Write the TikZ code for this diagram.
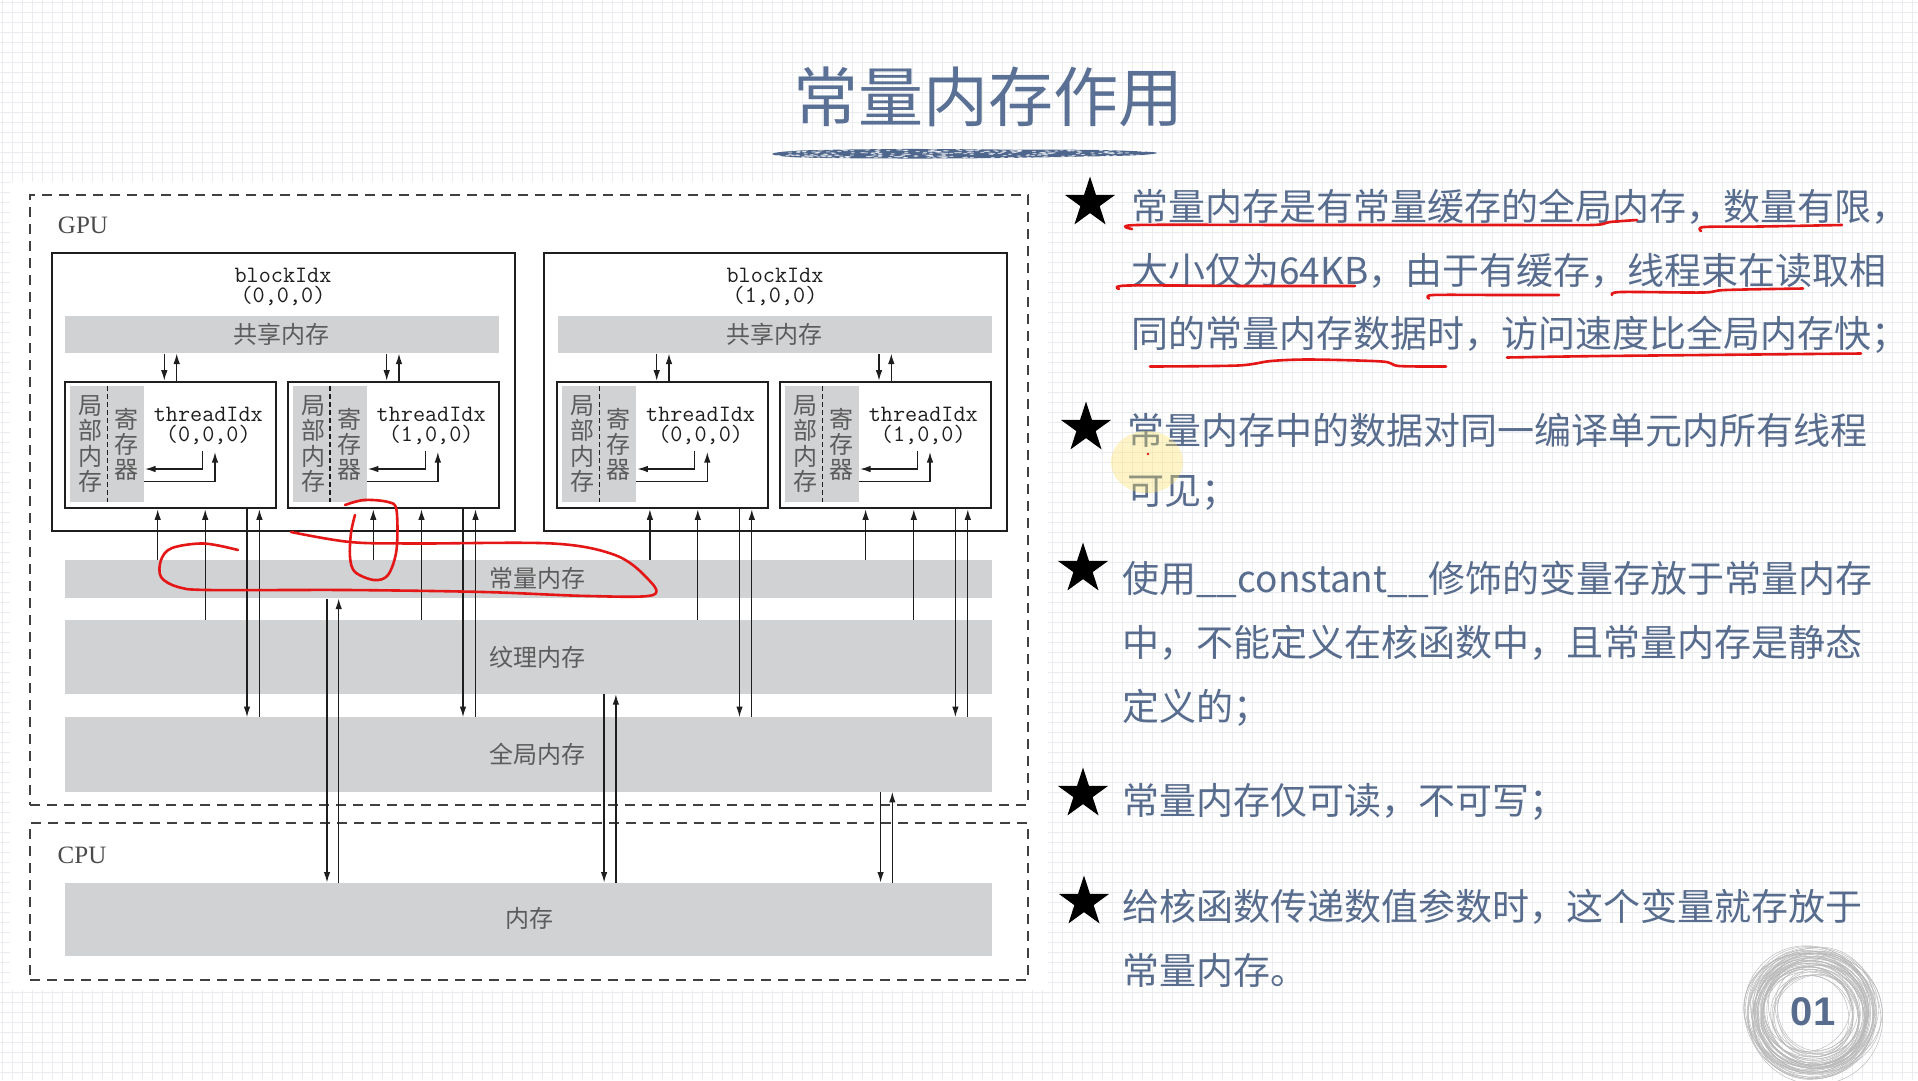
\documentclass[tikz,border=0pt]{standalone}
\usepackage{fontspec}
\setmainfont{Liberation Serif}
\newfontfamily\cjk{Noto Sans CJK SC}
\newfontfamily\sansf{Liberation Sans}
\usetikzlibrary{arrows.meta,shapes.geometric,calc}

\definecolor{bandgray}{RGB}{209,210,212}
\definecolor{ink}{RGB}{30,30,30}
\definecolor{lbl}{RGB}{92,92,92}
\definecolor{slate}{RGB}{88,108,142}
\definecolor{titlec}{RGB}{90,112,148}
\definecolor{brushc}{RGB}{78,102,140}
\definecolor{gridc}{RGB}{234,236,240}
\definecolor{redpen}{RGB}{228,22,22}

\tikzset{
  dashbox/.style={draw=ink!85, line width=2.2pt, dash pattern=on 10pt off 7pt, inner sep=0},
  blockbox/.style={draw=ink, line width=2pt, fill=white, inner sep=0},
  band/.style={fill=bandgray, draw=none, inner sep=0},
  arr/.style={draw=ink, line width=1.3pt, -{Latex[length=10.5pt,width=6.5pt]}},
  lab/.style={font=\cjk\fontsize{24}{25.5}\selectfont, text=lbl, inner sep=0, align=center},
  code/.style={font=\ttfamily\fontsize{23.5}{20.6}\selectfont, text=ink, inner sep=0, align=center},
  hwlabel/.style={font=\fontsize{25}{27}\selectfont, text=ink!80, inner sep=0},
  bodytext/.style={font=\cjk\fontsize{37}{44}\selectfont, text=slate, anchor=west, inner sep=0},
  bulletstar/.style={star, star points=5, star point ratio=2.618, fill=black, draw=none, minimum size=53pt, inner sep=0},
  redline/.style={draw=redpen, line width=2.6pt, line cap=round, line join=round}
}

\newcommand\thr[3]{%
  \node[blockbox, minimum width=211pt, minimum height=126.6pt] (#1) at (#2,445) {};
  \begin{scope}[shift={(#1.north west)}]
    \fill[bandgray] (5.7,5.6) rectangle (80,121.6);
    \draw[ink, line width=1.5pt, dash pattern=on 5pt off 3pt] (43.3,5.6) -- (43.3,121.6);
    \node[lab] (#1-loc) at (26.5,63.3) {局\\部\\内\\存};
    \node[lab, font=\cjk\fontsize{24}{25}\selectfont] (#1-reg) at (62.5,63.5) {寄\\存\\器};
    \node[code] (#1-id) at (144.3,45.3) {threadIdx\\#3};
    \coordinate (#1-r1) at (138.3,70);
    \coordinate (#1-r1e) at (81,88.3);
    \draw[arr] (#1-r1) |- (#1-r1e);
    \coordinate (#1-r2) at (80,100.6);
    \coordinate (#1-r2e) at (151,71.3);
    \draw[arr] (#1-r2) -| (#1-r2e);
  \end{scope}}

\begin{document}
\begin{tikzpicture}[x=1pt,y=-1pt]
\useasboundingbox (0,0) rectangle (1918,1080);
% background grid
\fill[white] (0,0) rectangle (1918,1080);
\foreach \gx in {2,12,...,1918} \draw[gridc, line width=0.9pt] (\gx,0) -- (\gx,1080);
\foreach \gy in {2,12,...,1080} \draw[gridc, line width=0.9pt] (0,\gy) -- (1918,\gy);
\fill[white] (10,182) rectangle (1048,990);

% title
\node[font=\cjk\fontsize{65}{70}\selectfont, text=titlec, inner sep=0] (title) at (988,97) {常量内存作用};
\fill[brushc] plot[smooth cycle, tension=0.5] coordinates {(772,154) (800,150.5) (900,149) (1000,149.5) (1100,150) (1156,152.5) (1130,155.5) (1000,158) (900,158.5) (800,157.5)};
\pgfmathsetseed{7}
\foreach \i in {1,...,260}{
  \pgfmathsetmacro{\px}{776+372*rnd}
  \pgfmathsetmacro{\py}{149.5+8.5*rnd}
  \fill[white, opacity=0.65] (\px,\py) ellipse[x radius=2.2pt, y radius=0.6pt];
}

% GPU / CPU frames
\node[dashbox, minimum width=998pt, minimum height=610pt] (gpu) at (529,500) {};
\node[dashbox, minimum width=998pt, minimum height=157pt] (cpu) at (529,901.5) {};
\node[hwlabel] (gpulbl) at (83,225) {GPU};
\node[hwlabel] (cpulbl) at (82,855) {CPU};

% blocks
\node[blockbox, minimum width=463pt, minimum height=278pt] (b0) at (283,392) {};
\node[blockbox, minimum width=463pt, minimum height=278pt] (b1) at (775,392) {};
\node[code] (b0id) at (283,287) {blockIdx\\(0,0,0)};
\node[code] (b1id) at (775,287) {blockIdx\\(1,0,0)};
\node[band, minimum width=434pt, minimum height=37.6pt] (sh0) at (282.2,334.5) {};
\node[band, minimum width=434pt, minimum height=37.6pt] (sh1) at (774.5,334.5) {};
\node[lab] (sh0l) at (281.7,334.5) {共享内存};
\node[lab] (sh1l) at (774,334.5) {共享内存};

\thr{t00}{170.5}{(0,0,0)}
\thr{t01}{393.35}{(1,0,0)}
\thr{t10}{662.8}{(0,0,0)}
\thr{t11}{885.5}{(1,0,0)}

% memory bands
\node[band, minimum width=926.5pt, minimum height=38.3pt] (const) at (528.25,579.2) {};
\node[band, minimum width=926.5pt, minimum height=74pt] (tex) at (528.25,657) {};
\node[band, minimum width=926.5pt, minimum height=74.4pt] (glob) at (528.25,754.5) {};
\node[band, minimum width=926.5pt, minimum height=73.3pt] (mem) at (528.25,919.35) {};
\node[lab] (constl) at (537.5,578) {常量内存};
\node[lab] (texl) at (537.5,657) {纹理内存};
\node[lab] (globl) at (537.5,754) {全局内存};
\node[lab] (meml) at (529,918) {内存};

% shared <-> thread
\foreach \xa/\xb/\tn/\sh in {164.3/176.7/t00/sh0, 386.7/399/t01/sh0, 656.7/669/t10/sh1, 879/891.3/t11/sh1}{
  \coordinate (ca) at (\xa,0);
  \coordinate (cb) at (\xb,0);
  \draw[arr] (ca |- \sh.south) -- (ca |- \tn.north);
  \draw[arr] (cb |- \tn.north) -- (cb |- \sh.south);
}
% bands -> threads
\foreach \xc/\xt/\xd/\xu/\tn in {157.7/205.2/247/259.4/t00, 373.3/421.5/463/475.5/t01, 649.9/697.8/739.5/751.8/t10, 865.6/913.8/955.4/967.8/t11}{
  \coordinate (cc) at (\xc,0);
  \coordinate (ct) at (\xt,0);
  \coordinate (cd) at (\xd,0);
  \coordinate (cu) at (\xu,0);
  \draw[arr] (cc |- const.north) -- (cc |- \tn.south);
  \draw[arr] (ct |- tex.north) -- (ct |- \tn.south);
  \draw[arr] (cd |- \tn.south) -- (cd |- glob.north);
  \draw[arr] (cu |- glob.north) -- (cu |- \tn.south);
}
% memory <-> device memories
\foreach \xa/\xb/\bn in {327/338.7/const, 604.1/615.9/tex, 880.6/892.3/glob}{
  \coordinate (ma) at (\xa,0);
  \coordinate (mb) at (\xb,0);
  \draw[arr] (ma |- \bn.south) -- (ma |- mem.north);
  \draw[arr] (mb |- mem.north) -- (mb |- \bn.south);
}

% red annotations on diagram
\draw[redline] plot[smooth, tension=0.55] coordinates {(238,550) (204,543.5) (172,548) (161,560) (161,577) (178,587) (209,590) (347,590) (484,592) (588,596) (653,595) (646,577) (615,555) (553,543.5) (415,543.5) (350,542) (291,532)};
\draw[redline] plot[smooth, tension=0.55] coordinates {(355,515) (351,533) (350,557) (355,572) (374,580) (388,575) (396.5,550) (396.5,510) (388,502) (364,500) (345,505)};

% right text
\node[bulletstar] (s1) at (1090,203) {};
\node[bulletstar] (s2) at (1086,428) {};
\node[bulletstar] (s3) at (1083,569) {};
\node[bulletstar] (s4) at (1083,794) {};
\node[bulletstar] (s5) at (1084,902) {};

\node[bodytext] (p1a) at (1131,207) {常量内存是有常量缓存的全局内存，数量有限，};
\node[bodytext] (p1b) at (1131,271) {大小仅为64KB，由于有缓存，线程束在读取相};
\node[bodytext] (p1c) at (1131,335) {同的常量内存数据时，访问速度比全局内存快；};
\node[bodytext] (p2a) at (1127,430) {常量内存中的数据对同一编译单元内所有线程};
\node[bodytext] (p2b) at (1127,493) {可见；};
\node[bodytext] (p3a) at (1122,579) {使用\_\_constant\_\_修饰的变量存放于常量内存};
\node[bodytext] (p3b) at (1122,643) {中，不能定义在核函数中，且常量内存是静态};
\node[bodytext] (p3c) at (1122,708) {定义的；};
\node[bodytext] (p4) at (1122,802) {常量内存仅可读，不可写；};
\node[bodytext] (p5a) at (1122,907) {给核函数传递数值参数时，这个变量就存放于};
\node[bodytext] (p5b) at (1122,970) {常量内存。};

% red underlines
\draw[redline] plot[smooth, tension=0.5] coordinates {(1132,229) (1137,225) (1300,225) (1500,225) (1592,225) (1610,222) (1637,220)};
\draw[redline] plot[smooth, tension=0.5] coordinates {(1701,231) (1704,227) (1760,226.5) (1842,225)};
\draw[redline] plot[smooth, tension=0.5] coordinates {(1119,289) (1128,285.5) (1250,286) (1355,286)};
\draw[redline] plot[smooth, tension=0.5] coordinates {(1429,298.5) (1433,295) (1500,295) (1559,295)};
\draw[redline] plot[smooth, tension=0.5] coordinates {(1612,295) (1621,292) (1703,292.5) (1725,290) (1803,288.5)};
\draw[redline] plot[smooth, tension=0.5] coordinates {(1150,366.5) (1238,365.5) (1271,361) (1310,359.5) (1382,361.5) (1399,366) (1446,366.5)};
\draw[redline] plot[smooth, tension=0.5] coordinates {(1507,357.5) (1604,356) (1861,353.5)};

% pointer highlight
\fill[yellow!70!orange!60, opacity=0.35] (1147,462) ellipse[x radius=36pt, y radius=31pt];
\fill[redpen] (1148,454) circle[radius=1.4pt];

% page badge
\pgfmathsetseed{3}
\foreach \i in {1,...,50}{
  \pgfmathsetmacro{\rx}{40+30*rnd}
  \pgfmathsetmacro{\ry}{\rx*(0.84+0.14*rnd)}
  \pgfmathsetmacro{\cxx}{1812+7*rnd-3.5}
  \pgfmathsetmacro{\cyy}{1013+7*rnd-3.5}
  \pgfmathsetmacro{\rot}{180*rnd}
  \draw[gray!55, line width=0.45pt, rotate around={\rot:(\cxx,\cyy)}] (\cxx,\cyy) ellipse[x radius=\rx pt, y radius=\ry pt];
}
\node[font=\sansf\bfseries\fontsize{40}{40}\selectfont, text=slate, inner sep=0] (num) at (1813,1012) {01};
\end{tikzpicture}
\end{document}
